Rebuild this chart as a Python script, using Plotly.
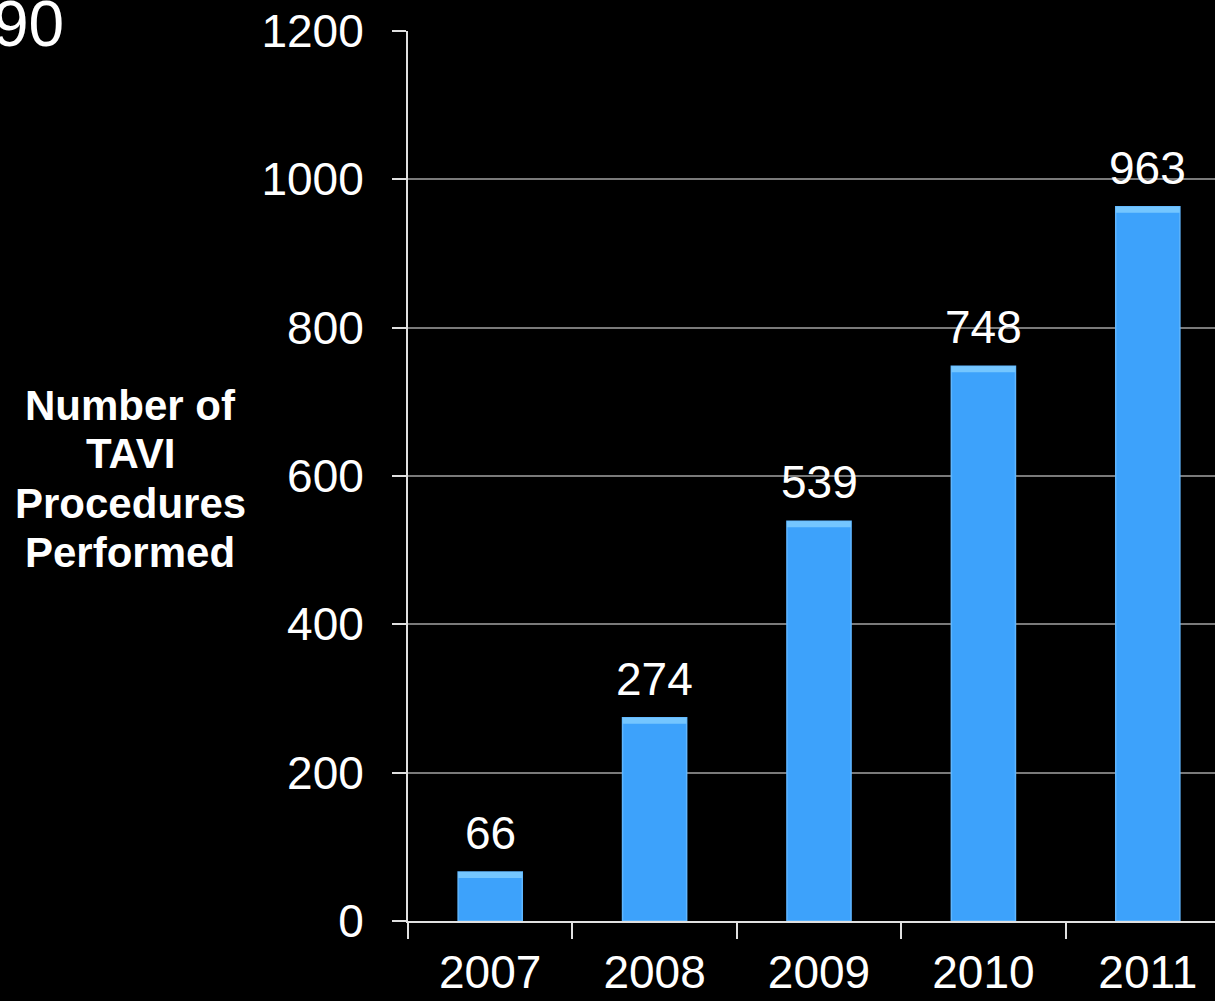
import plotly.graph_objects as go

years = ["2007", "2008", "2009", "2010", "2011"]
procedures = [66, 274, 539, 748, 963]
y_ticks = [0, 200, 400, 600, 800, 1000, 1200]
title_lines = ["Number of", "TAVI", "Procedures", "Performed"]

W, H = 1215, 1001
ML, MT, MB = 408, 31, 80
FONT = "Liberation Sans, Arial, sans-serif"
plot_w = W - ML
plot_h = H - MT - MB
BEVEL = 8  # thickness of the lighter top bevel, in data units

fig = go.Figure()
fig.add_trace(go.Bar(
    x=years, y=procedures, width=0.39,
    marker=dict(color="#3da2fb", line=dict(color="#5fb6ff", width=1.5)),
    hoverinfo="skip",
))
fig.add_trace(go.Bar(
    x=years, y=[BEVEL] * len(procedures), base=[v - BEVEL for v in procedures],
    width=0.39, marker=dict(color="#74c6ff", line=dict(width=0)),
    hoverinfo="skip",
))

for i, v in enumerate(procedures):
    fig.add_annotation(x=i, y=v, text=str(v), showarrow=False,
                       yanchor="bottom", yshift=11,
                       font=dict(family=FONT, size=46, color="white"))

for j, line in enumerate(title_lines):
    fig.add_annotation(xref="paper", yref="paper",
                       x=(130 - ML) / plot_w, y=(H - MB - (405 + 49 * j)) / plot_h,
                       text="<b>" + line + "</b>",
                       showarrow=False, xanchor="center", yanchor="middle",
                       font=dict(family=FONT, size=42, color="white"))

fig.add_annotation(xref="paper", yref="paper",
                   x=(66 - ML) / plot_w, y=(H - MB - 24) / plot_h,
                   text="90", showarrow=False, xanchor="right", yanchor="middle",
                   font=dict(family=FONT, size=64, color="white"))

fig.update_layout(
    width=W, height=H,
    margin=dict(l=ML, r=0, t=MT, b=MB),
    paper_bgcolor="black", plot_bgcolor="black",
    showlegend=False, barmode="overlay",
    font=dict(family=FONT, color="white"),
)
cat_w = 164.4
fig.update_xaxes(
    type="category", range=[-0.5, -0.5 + plot_w / cat_w],
    tickson="boundaries", ticks="outside", ticklen=16, tickwidth=2, tickcolor="#e0e0e0",
    showline=True, linecolor="#e0e0e0", linewidth=2,
    showgrid=False, tickfont=dict(family=FONT, size=46, color="white"),
    ticklabelstandoff=10,
)
fig.update_yaxes(
    range=[0, 1200], tickvals=y_ticks, ticks="outside", ticklen=14, tickwidth=2,
    tickcolor="#e0e0e0", showline=True, linecolor="#e0e0e0", linewidth=2,
    showgrid=True, gridcolor="#7a7a7a", gridwidth=2, zeroline=False,
    tickfont=dict(family=FONT, size=46, color="white"),
    ticklabelstandoff=19,
)
fig.write_html("out.html", config={"displayModeBar": False},
               post_script="document.body.style.margin='0';document.body.style.background='black';")
